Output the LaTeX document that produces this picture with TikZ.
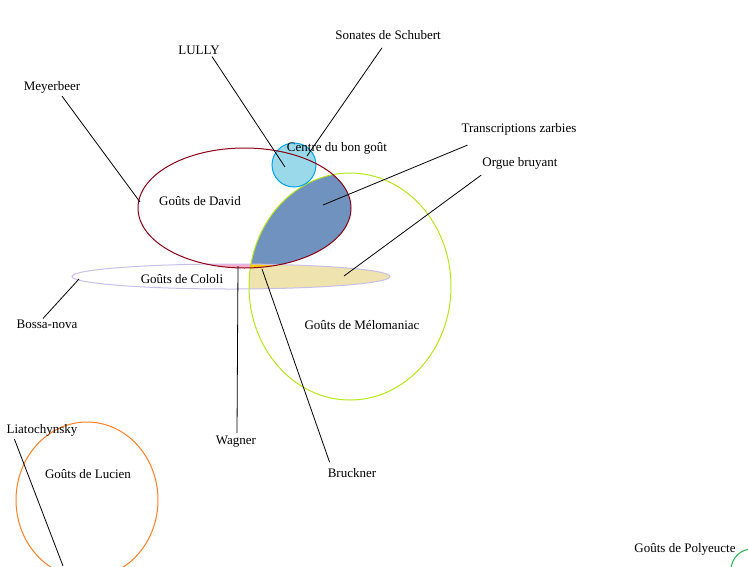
\documentclass[tikz,border=0pt]{standalone}
\usepackage{fontspec}
\setmainfont{Liberation Serif}
\usetikzlibrary{positioning}
\definecolor{davidred}{HTML}{880015}
\definecolor{meloline}{HTML}{B5E61D}
\definecolor{centreline}{HTML}{00A2E8}
\definecolor{centrefill}{HTML}{99D9EA}
\definecolor{cololiline}{HTML}{C8BFE7}
\definecolor{tanfill}{HTML}{EFE4B0}
\definecolor{bluefill}{HTML}{7092BE}
\definecolor{pinkfill}{HTML}{FFAEC9}
\definecolor{goldfill}{HTML}{FFC90E}
\definecolor{lucienline}{HTML}{FF7F27}
\definecolor{polyline}{HTML}{22B14C}
\tikzset{
    tag/.style={
        inner sep=0pt,
        font=\fontsize{13}{15}\selectfont,
    },
    taste/.style={
        draw=#1,
        line width=1pt,
    },
    pointer/.style={
        draw=black,
        line width=0.8pt,
    },
}

\begin{document}
\begin{tikzpicture}[x=1pt,y=-1pt]
    \useasboundingbox (0,0) rectangle (748,566);
    \def\david{(244.5,208) ellipse [x radius=106.5pt, y radius=60pt]}
    \def\melo{(350,286.5) ellipse [x radius=101pt, y radius=113.5pt]}
    \def\cololi{(231,276.5) ellipse [x radius=159pt, y radius=12.5pt]}
    % shared areas
    \begin{scope}
        \clip \david;
        \fill [bluefill] \melo;
    \end{scope}
    \begin{scope}
        \clip \cololi;
        \fill [tanfill] \melo;
        \fill [pinkfill] \david;
        \clip \melo;
        \fill [goldfill] \david;
    \end{scope}
    \draw [taste=cololiline] \cololi;
    \draw [taste=meloline] \melo;
    \fill [centrefill] (294,165) circle [radius=22pt];
    \draw [taste=centreline] (294,165) circle [radius=22pt];
    \draw [taste=davidred] \david;
    \draw [taste=lucienline] (87,500) ellipse [x radius=71pt, y radius=78pt];
    \draw [taste=polyline] (752,570) circle [radius=21pt];

    \coordinate (meyerEnd) at (140,202);
    \coordinate (lullyEnd) at (285,167);
    \coordinate (schubertEnd) at (307,156);
    \coordinate (transEnd) at (323,205);
    \coordinate (orgueEnd) at (344,276);
    \coordinate (bossaEnd) at (79,279);
    \coordinate (wagnerEnd) at (238,266);
    \coordinate (brucknerEnd) at (262,269);
    \coordinate (liatoEnd) at (63,566);

    \node [tag] (david) at (200,201) {Goûts de David};
    \node [tag] (cololi) at (182,279) {Goûts de Cololi};
    \node [tag] (melo) at (362,325) {Goûts de Mélomaniac};
    \node [tag] (lucien) at (88,474) {Goûts de Lucien};
    \node [tag] (polyeucte) at (685,549) {Goûts de Polyeucte};
    \node [tag] (centre) at (337,148) {Centre du bon goût};
    \node [tag] (meyerbeer) at (52,87) {Meyerbeer};
    \node [tag] (lully) at (199,50) {LULLY};
    \node [tag] (schubert) at (388,35) {Sonates de Schubert};
    \node [tag] (trans) at (519,129) {Transcriptions zarbies};
    \node [tag] (orgue) at (520,163) {Orgue bruyant};
    \node [tag] (bossa) at (47,324) {Bossa-nova};
    \node [tag] (wagner) at (236,442) {Wagner};
    \node [tag] (bruckner) at (352,473) {Bruckner};
    \node [tag] (liato) at (42,430) {Liatochynsky};

    \draw [pointer] ([shift={(10,3)}]meyerbeer.south) -- (meyerEnd);
    \draw [pointer] ([shift={(13,2)}]lully.south) -- (lullyEnd);
    \draw [pointer] ([shift={(-6,8)}]schubert.south) -- (schubertEnd);
    \draw [pointer] ([shift={(6,10)}]trans.south west) -- (transEnd);
    \draw [pointer] ([shift={(-1,6)}]orgue.south west) -- (orgueEnd);
    \draw [pointer] ([shift={(-4,-1)}]bossa.north) -- (bossaEnd);
    \draw [pointer] ([shift={(1,-3)}]wagner.north) -- (wagnerEnd);
    \draw [pointer] ([shift={(2,-6)}]bruckner.north west) -- (brucknerEnd);
    \draw [pointer] ([shift={(8,3)}]liato.south west) -- (liatoEnd);
\end{tikzpicture}
\end{document}
